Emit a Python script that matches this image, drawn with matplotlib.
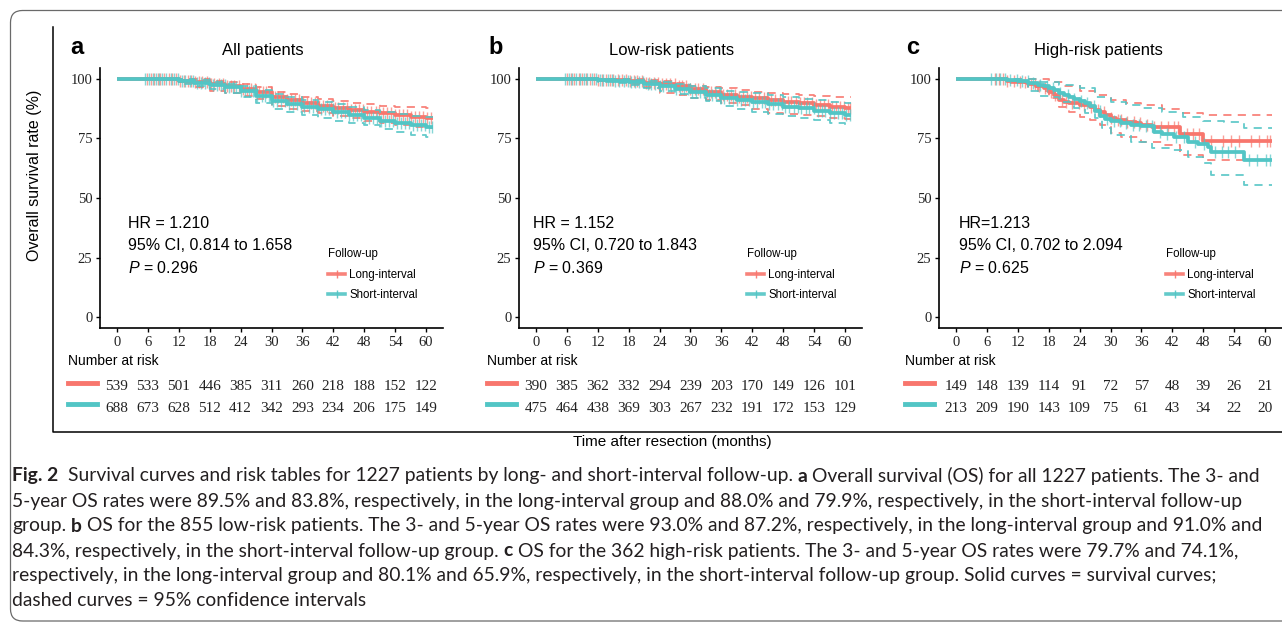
import numpy as np
import matplotlib
matplotlib.use("Agg")
import matplotlib.pyplot as plt
from matplotlib.patches import FancyBboxPatch
from matplotlib.lines import Line2D
from matplotlib.transforms import IdentityTransform, blended_transform_factory

plt.rcParams['font.family'] = ['Liberation Sans', 'DejaVu Sans']
plt.rcParams['mathtext.fontset'] = 'custom'
plt.rcParams['mathtext.it'] = 'Liberation Sans:italic'
plt.rcParams['mathtext.rm'] = 'Liberation Sans'

# ---------------- data ----------------
groups = ["Long-interval", "Short-interval"]
panel_letters = ["a", "b", "c"]
panel_titles = ["All patients", "Low-risk patients", "High-risk patients"]
hr_texts = ["HR = 1.210", "HR = 1.152", "HR=1.213"]
ci_texts = ["95% CI, 0.814 to 1.658", "95% CI, 0.720 to 1.843", "95% CI, 0.702 to 2.094"]
p_texts = ["0.296", "0.369", "0.625"]
x_ticks = [0, 6, 12, 18, 24, 30, 36, 42, 48, 54, 60]
y_ticks = [0, 25, 50, 75, 100]

risk_a_long = [539, 533, 501, 446, 385, 311, 260, 218, 188, 152, 122]
risk_a_short = [688, 673, 628, 512, 412, 342, 293, 234, 206, 175, 149]
risk_b_long = [390, 385, 362, 332, 294, 239, 203, 170, 149, 126, 101]
risk_b_short = [475, 464, 438, 369, 303, 267, 232, 191, 172, 153, 129]
risk_c_long = [149, 148, 139, 114, 91, 72, 57, 48, 39, 26, 21]
risk_c_short = [213, 209, 190, 143, 109, 75, 61, 43, 34, 22, 20]

# panel a: survival (%) at times (months)
a_t = [0, 9, 12, 15, 18, 21, 24, 27, 30, 33, 36, 39, 42, 45, 48, 51, 54, 57, 60, 61.3]
a_long = [100, 100, 99.3, 98.7, 97.9, 96.9, 95.7, 94.4, 92.6, 91.2, 89.7, 88.8, 87.9, 87.1, 86.3, 85.6, 84.9, 84.2, 83.8, 83.8]
a_long_hi = [100, 100, 100, 99.8, 99.3, 98.6, 97.8, 96.8, 94.5, 93.5, 92.3, 91.5, 90.8, 90.0, 89.3, 88.7, 88.3, 88.1, 88.0, 88.0]
a_long_lo = [100, 100, 98.5, 96.5, 94.8, 94.0, 93.0, 91.5, 88.5, 87.5, 86.5, 85.5, 84.5, 83.5, 82.5, 81.7, 80.8, 80.0, 79.4, 79.4]
a_short = [100, 100, 99.0, 98.3, 97.5, 96.5, 95.1, 93.0, 90.8, 89.5, 88.2, 87.2, 86.3, 84.9, 83.5, 82.4, 81.4, 80.5, 79.9, 79.9]
a_short_hi = [100, 100, 100, 99.5, 98.8, 98.0, 97.0, 95.5, 93.5, 92.3, 91.2, 90.3, 89.5, 88.4, 87.0, 86.2, 85.4, 84.6, 84.0, 84.0]
a_short_lo = [100, 100, 98.0, 97.0, 95.8, 94.0, 92.5, 90.0, 87.2, 86.0, 84.8, 83.5, 82.5, 81.7, 80.5, 79.0, 77.8, 76.5, 75.5, 75.5]
a_long_cens = [5.8, 6.6, 7.1, 7.9, 8.4, 9.2, 10.1, 10.7, 11.5, 12.2, 13.0, 13.8, 14.3, 15.1, 16.0, 16.6,
               17.5, 18.3, 18.9, 19.8, 20.6, 21.3, 22.1, 22.8, 23.7, 24.4, 25.2, 26.1, 26.7, 27.6, 28.4,
               29.0, 29.9, 30.7, 31.3, 32.2, 33.0, 33.7, 34.5, 35.4, 36.1, 36.8, 37.6, 38.5, 39.2, 40.0,
               40.7, 41.5, 42.4, 43.0, 43.9, 44.7, 45.4, 46.2, 47.0, 47.8, 48.5, 49.3, 50.2, 50.9, 51.6,
               52.5, 53.2, 54.0, 54.8, 55.5, 56.3, 57.1, 57.9, 58.6, 59.4, 60.2, 60.9]
a_short_cens = [5.5, 6.2, 6.9, 7.5, 8.2, 8.8, 9.6, 10.4, 11.0, 11.9, 12.6, 13.3, 14.1, 14.8, 15.6, 16.3,
                17.1, 17.9, 18.6, 19.4, 20.1, 20.9, 21.7, 22.5, 23.2, 24.0, 24.8, 25.6, 26.4, 27.2, 28.1,
                28.7, 29.5, 30.3, 31.0, 31.8, 32.6, 33.4, 34.1, 34.9, 35.7, 36.4, 37.2, 38.0, 38.8, 39.6,
                40.3, 41.1, 41.9, 42.7, 43.5, 44.3, 45.0, 45.8, 46.6, 47.4, 48.1, 48.9, 49.7, 50.5, 51.3,
                52.0, 52.8, 53.6, 54.4, 55.1, 55.9, 56.7, 57.5, 58.2, 59.0, 59.8, 60.6, 61.1]

# panel b
b_t = [0, 8, 12, 15, 18, 21, 24, 27, 30, 33, 36, 39, 42, 45, 48, 51, 54, 57, 60, 61.2]
b_long = [100, 100, 99.7, 99.5, 99.1, 98.5, 97.8, 97.0, 95.8, 94.7, 93.2, 92.5, 91.8, 91.1, 90.4, 89.7, 89.0, 88.3, 87.6, 87.6]
b_long_hi = [100, 100, 100, 100, 99.9, 99.6, 99.2, 98.5, 97.2, 96.6, 96.0, 95.3, 94.7, 94.2, 93.8, 93.3, 92.9, 92.6, 92.3, 92.3]
b_long_lo = [100, 100, 99.2, 98.6, 97.8, 96.8, 94.3, 93.2, 92.0, 91.0, 90.0, 88.9, 87.5, 85.9, 85.3, 84.8, 84.3, 83.7, 83.1, 83.1]
b_short = [100, 100, 99.5, 99.1, 98.6, 97.8, 97.0, 95.6, 94.6, 93.3, 92.0, 91.2, 90.4, 89.4, 88.4, 87.6, 86.7, 85.8, 84.8, 84.8]
b_short_hi = [100, 100, 100, 99.9, 99.7, 99.3, 98.7, 97.9, 97.2, 96.1, 95.1, 94.5, 93.9, 93.2, 92.4, 91.7, 91.0, 90.5, 90.0, 90.0]
b_short_lo = [100, 100, 98.9, 98.2, 97.3, 96.2, 95.0, 93.5, 92.0, 90.6, 88.5, 87.2, 86.3, 85.4, 84.4, 83.5, 82.7, 81.7, 80.5, 80.5]
b_long_cens = [6.1, 6.8, 7.4, 8.3, 9.0, 9.7, 10.5, 11.2, 12.1, 12.8, 13.6, 14.4, 15.0, 15.9, 16.7, 17.4,
               18.2, 19.0, 19.7, 20.5, 21.4, 22.0, 22.9, 23.6, 24.5, 25.3, 26.0, 26.9, 27.7, 28.4, 29.2,
               30.0, 30.8, 31.5, 32.4, 33.2, 33.9, 34.8, 35.5, 36.3, 37.1, 37.9, 38.6, 39.5, 40.2, 41.0,
               41.8, 42.6, 43.3, 44.2, 44.9, 45.7, 46.5, 47.3, 48.0, 48.9, 49.6, 50.4, 51.2, 52.0, 52.7,
               53.6, 54.3, 55.1, 55.9, 56.7, 57.4, 58.3, 59.0, 59.8, 60.5, 61.0]
b_short_cens = [5.7, 6.4, 7.0, 7.8, 8.6, 9.3, 10.0, 10.9, 11.6, 12.4, 13.1, 13.9, 14.7, 15.4, 16.2, 17.0,
                17.8, 18.5, 19.3, 20.0, 20.8, 21.7, 22.4, 23.2, 24.0, 24.7, 25.6, 26.3, 27.1, 27.9, 28.7,
                29.5, 30.2, 31.1, 31.8, 32.7, 33.5, 34.2, 35.0, 35.8, 36.6, 37.4, 38.2, 39.0, 39.8, 40.5,
                41.4, 42.1, 42.9, 43.8, 44.5, 45.3, 46.1, 46.9, 47.7, 48.4, 49.2, 50.0, 50.8, 51.5, 52.4,
                53.1, 53.9, 54.7, 55.5, 56.2, 57.0, 57.8, 58.7, 59.4, 60.2, 61.0]

# panel c (step functions)
c_long_t = [0, 10, 12, 14, 15.5, 17, 18, 19, 20, 21, 22, 24, 26, 27, 28, 29, 30, 31, 33, 35, 36, 38, 43.5, 48, 61.3]
c_long = [100, 99.3, 98.6, 97.9, 97.2, 96.0, 94.6, 93.2, 91.2, 90.5, 89.8, 89.1, 88.4, 87.0, 86.3, 84.9, 83.5, 82.8, 82.1, 81.4, 80.5, 79.7, 76.9, 74.1, 74.1]
c_long_hi_t = [0, 10, 14, 18, 21, 24, 27, 30, 33, 36, 40, 43.5, 48, 61.3]
c_long_hi = [100, 100, 99.8, 98.7, 97.0, 95.1, 93.3, 91.2, 90.0, 89.0, 87.3, 85.6, 84.9, 84.9]
c_long_lo_t = [0, 10, 14, 16, 18, 20, 22, 24, 26, 28, 30, 32, 36, 40, 43.5, 48, 61.3]
c_long_lo = [100, 98.5, 96.5, 95.0, 92.0, 88.4, 86.3, 84.2, 82.6, 80.7, 77.5, 75.8, 73.7, 72.3, 68.0, 66.0, 66.0]
c_short_t = [0, 10, 12, 14, 16, 17, 18, 19, 20, 21, 22, 23, 24, 25, 26, 27, 28, 29, 30, 32, 34, 36, 38.5, 40, 42.4, 45, 47, 48.9, 49.5, 55.9, 61.3]
c_short = [100, 99.5, 99.0, 98.4, 97.6, 96.9, 96.0, 95.2, 94.3, 93.4, 92.5, 91.5, 90.6, 89.7, 88.5, 86.7, 84.5, 83.2, 82.3, 81.4, 80.8, 80.1, 77.9, 77.0, 75.8, 73.7, 72.6, 71.6, 69.5, 65.9, 65.9]
c_short_hi_t = [0, 12, 16, 20, 24, 27, 30, 33, 36, 40, 44, 48, 52, 56, 61.3]
c_short_hi = [100, 100, 98.9, 97.5, 96.0, 92.6, 90.5, 89.0, 87.7, 86.0, 84.2, 82.5, 82.0, 79.3, 79.3]
c_short_lo_t = [0, 10, 14, 16, 18, 20, 23, 25, 27, 28.3, 30, 34, 38, 42, 45, 48, 49.5, 55.9, 61.3]
c_short_lo = [100, 99.0, 95.0, 93.0, 92.6, 90.5, 87.7, 85.5, 83.5, 79.5, 76.5, 73.7, 71.0, 70.2, 67.4, 64.5, 59.7, 55.5, 55.5]
c_long_cens = [7.5, 8.3, 9.1, 10.0, 11.2, 12.5, 13.4, 14.6, 15.3, 16.1, 17.2, 18.5, 19.3, 20.6, 21.4, 22.5,
               23.8, 24.9, 26.2, 27.5, 28.8, 30.1, 31.4, 32.0, 33.3, 34.6, 35.7, 37.0, 38.4, 39.8, 41.2,
               42.3, 43.1, 44.8, 46.0, 47.2, 49.5, 51.8, 53.4, 55.0, 57.2, 58.9, 60.4, 61.0]
c_short_cens = [6.8, 7.7, 8.6, 9.5, 10.4, 11.8, 12.9, 13.9, 15.0, 16.4, 17.7, 18.9, 20.1, 21.8, 23.0, 24.2,
                25.5, 26.8, 27.9, 29.4, 30.6, 31.8, 33.0, 34.3, 35.5, 36.9, 38.0, 39.6, 41.0, 42.8, 44.2,
                46.5, 48.1, 50.3, 51.6, 52.9, 54.1, 56.8, 58.5, 60.1, 61.0]

caption_lines = [
    [("Fig. 2", True), ("  Survival curves and risk tables for 1227 patients by long- and short-interval follow-up. ", False),
     ("a", True), (" Overall survival (OS) for all 1227 patients. The 3- and", False)],
    [("5-year OS rates were 89.5% and 83.8%, respectively, in the long-interval group and 88.0% and 79.9%, respectively, in the short-interval follow-up", False)],
    [("group. ", False), ("b", True), (" OS for the 855 low-risk patients. The 3- and 5-year OS rates were 93.0% and 87.2%, respectively, in the long-interval group and 91.0% and", False)],
    [("84.3%, respectively, in the short-interval follow-up group. ", False), ("c", True), (" OS for the 362 high-risk patients. The 3- and 5-year OS rates were 79.7% and 74.1%,", False)],
    [("respectively, in the long-interval group and 80.1% and 65.9%, respectively, in the short-interval follow-up group. Solid curves = survival curves;", False)],
    [("dashed curves = 95% confidence intervals", False)],
]

# ---------------- drawing ----------------
RED = "#F8766D"
TEAL = "#52C5C5"
W, H = 1282, 626
fig = plt.figure(figsize=(W / 100, H / 100), dpi=100)


def fx(x):
    return x / W


def fy(y):
    return 1 - y / H


def step_at(ts, ss, t):
    i = np.searchsorted(np.asarray(ts), t, side="right") - 1
    return np.asarray(ss)[i]


panels = [
    dict(left=100, letter_x=70, title_x=263, txt_x=128, leg_x=328, nar_x=68,
         long=(a_t, a_long, a_t, a_long_hi, a_t, a_long_lo, a_long_cens),
         short=(a_t, a_short, a_t, a_short_hi, a_t, a_short_lo, a_short_cens),
         risk=(risk_a_long, risk_a_short)),
    dict(left=519, letter_x=488, title_x=672, txt_x=533, leg_x=747, nar_x=487,
         long=(b_t, b_long, b_t, b_long_hi, b_t, b_long_lo, b_long_cens),
         short=(b_t, b_short, b_t, b_short_hi, b_t, b_short_lo, b_short_cens),
         risk=(risk_b_long, risk_b_short)),
    dict(left=939, letter_x=906, title_x=1098, txt_x=959, leg_x=1166, nar_x=905,
         long=(c_long_t, c_long, c_long_hi_t, c_long_hi, c_long_lo_t, c_long_lo, c_long_cens),
         short=(c_short_t, c_short, c_short_hi_t, c_short_hi, c_short_lo_t, c_short_lo, c_short_cens),
         risk=(risk_c_long, risk_c_short)),
]

AX_W, AX_TOP, AX_BOT = 343, 68, 328

for k, p in enumerate(panels):
    ax = fig.add_axes([fx(p["left"]), fy(AX_BOT), AX_W / W, (AX_BOT - AX_TOP) / H])
    ax.set_xlim(-3.3, 63.3)
    ax.set_ylim(-4.6, 104.6)
    for s in ("top", "right"):
        ax.spines[s].set_visible(False)
    for s in ("left", "bottom"):
        ax.spines[s].set_linewidth(1.2)
        ax.spines[s].set_color("black")
    ax.set_xticks(x_ticks)
    ax.set_yticks(y_ticks)
    ax.tick_params(direction="out", length=3, width=1, color="black", labelsize=10.5,
                   labelcolor="#222222", pad=2.5)
    for lab in ax.get_xticklabels() + ax.get_yticklabels():
        lab.set_family("Liberation Serif")
    ax.patch.set_alpha(0)

    for grp, col in ((p["long"], RED), (p["short"], TEAL)):
        t, s, th, sh, tl, sl, cens = grp
        ax.plot(th, sh, color=col, lw=1.3, ls=(0, (4.5, 3.5)), drawstyle="steps-post", alpha=0.9)
        ax.plot(tl, sl, color=col, lw=1.3, ls=(0, (4.5, 3.5)), drawstyle="steps-post", alpha=0.9)
        ax.plot(t, s, color=col, lw=2.7, drawstyle="steps-post", solid_capstyle="butt")
        cy = [step_at(t, s, c) for c in cens]
        ax.plot(cens, cy, ls="none", marker="|", markersize=8, mew=1.0, color=col, alpha=0.7)

    # panel letter & title
    fig.text(fx(p["letter_x"]), fy(47), panel_letters[k], fontsize=17, fontweight="bold",
             ha="left", va="center")
    fig.text(fx(p["title_x"]), fy(50), panel_titles[k], fontsize=12, ha="center", va="center")

    # stats text
    fig.text(fx(p["txt_x"]), fy(223), hr_texts[k], fontsize=11.5, ha="left", va="center")
    fig.text(fx(p["txt_x"]), fy(246), ci_texts[k], fontsize=11.5, ha="left", va="center")
    fig.text(fx(p["txt_x"]), fy(268), "$P$ = " + p_texts[k], fontsize=11.5, ha="left", va="center")

    # legend
    handles = [Line2D([], [], color=RED, lw=2.6, marker="|", markersize=6, mew=1, alpha=0.9),
               Line2D([], [], color=TEAL, lw=2.6, marker="|", markersize=6, mew=1, alpha=0.9)]
    leg = ax.legend(handles, groups, title="Follow-up", loc="upper left",
                    bbox_to_anchor=(fx(p["leg_x"]), fy(248)), bbox_transform=fig.transFigure,
                    frameon=False, fontsize=8.3, title_fontsize=8.3, handlelength=1.5,
                    handletextpad=0.35, labelspacing=0.75, borderpad=0, borderaxespad=0)
    leg._legend_box.align = "left"

    # risk table
    fig.text(fx(p["nar_x"]), fy(361), "Number at risk", fontsize=10, ha="left", va="center")
    trans = blended_transform_factory(ax.transData, fig.transFigure)
    for row, (vals, col, yy) in enumerate(((p["risk"][0], RED, 387), (p["risk"][1], TEAL, 408))):
        fig.add_artist(Line2D([fx(p["nar_x"]), fx(p["nar_x"] + 29)], [fy(yy - 4), fy(yy - 4)],
                              color=col, lw=3.5, transform=fig.transFigure))
        for xt, v in zip(x_ticks, vals):
            fig.text(xt, fy(yy), str(v), transform=trans, ha="center", va="center",
                     fontsize=11, family="Liberation Serif", color="#222222")

# shared labels
fig.text(fx(35), fy(175), "Overall survival rate (%)", rotation=90, fontsize=11.5,
         ha="center", va="center")
fig.text(fx(672), fy(442), "Time after resection (months)", fontsize=11, ha="center", va="center")

# inner L frame
fig.add_artist(Line2D([53, 53, 1290], [H - 27, H - 432, H - 432], color="black", lw=1.1,
                      transform=IdentityTransform()))
# outer rounded frame
fig.add_artist(FancyBboxPatch((10.5, 5), 1300, H - 10.5 - 5,
                              boxstyle="round,pad=0,rounding_size=12", fill=False,
                              edgecolor="#6a6a6a", lw=0.9, transform=IdentityTransform()))

# caption
renderer = fig.canvas.get_renderer()
CAP_FAM = ["Lato", "DejaVu Sans"]


def text_w(s, bold, fs):
    t = fig.text(0, 0, s, fontsize=fs, family=CAP_FAM, fontweight="bold" if bold else "normal")
    w = t.get_window_extent(renderer).width
    t.remove()
    return w


def line_w(tokens, fs):
    sp = text_w("n n", False, fs) - text_w("nn", False, fs)
    total = 0
    for s, b in tokens:
        st = s.strip(" ")
        lead = len(s) - len(s.lstrip(" "))
        trail = len(s) - len(s.rstrip(" "))
        total += (lead + trail) * sp + text_w(st, b, fs)
    return total, sp


w0, _ = line_w(caption_lines[0], 10)
cap_fs = 10 * (1253 / w0)
cap_y = [476, 501, 526, 551, 576, 601]
for tokens, yy in zip(caption_lines, cap_y):
    _, sp = line_w(tokens, cap_fs)
    x = 12
    for s, b in tokens:
        st = s.strip(" ")
        lead = len(s) - len(s.lstrip(" "))
        trail = len(s) - len(s.rstrip(" "))
        x += lead * sp
        fig.text(fx(x), fy(yy), st, fontsize=cap_fs, family=CAP_FAM,
                 fontweight="bold" if b else "normal", ha="left", va="center", color="#231f20")
        x += text_w(st, b, cap_fs) + trail * sp

fig.savefig("out.png", dpi=100)
